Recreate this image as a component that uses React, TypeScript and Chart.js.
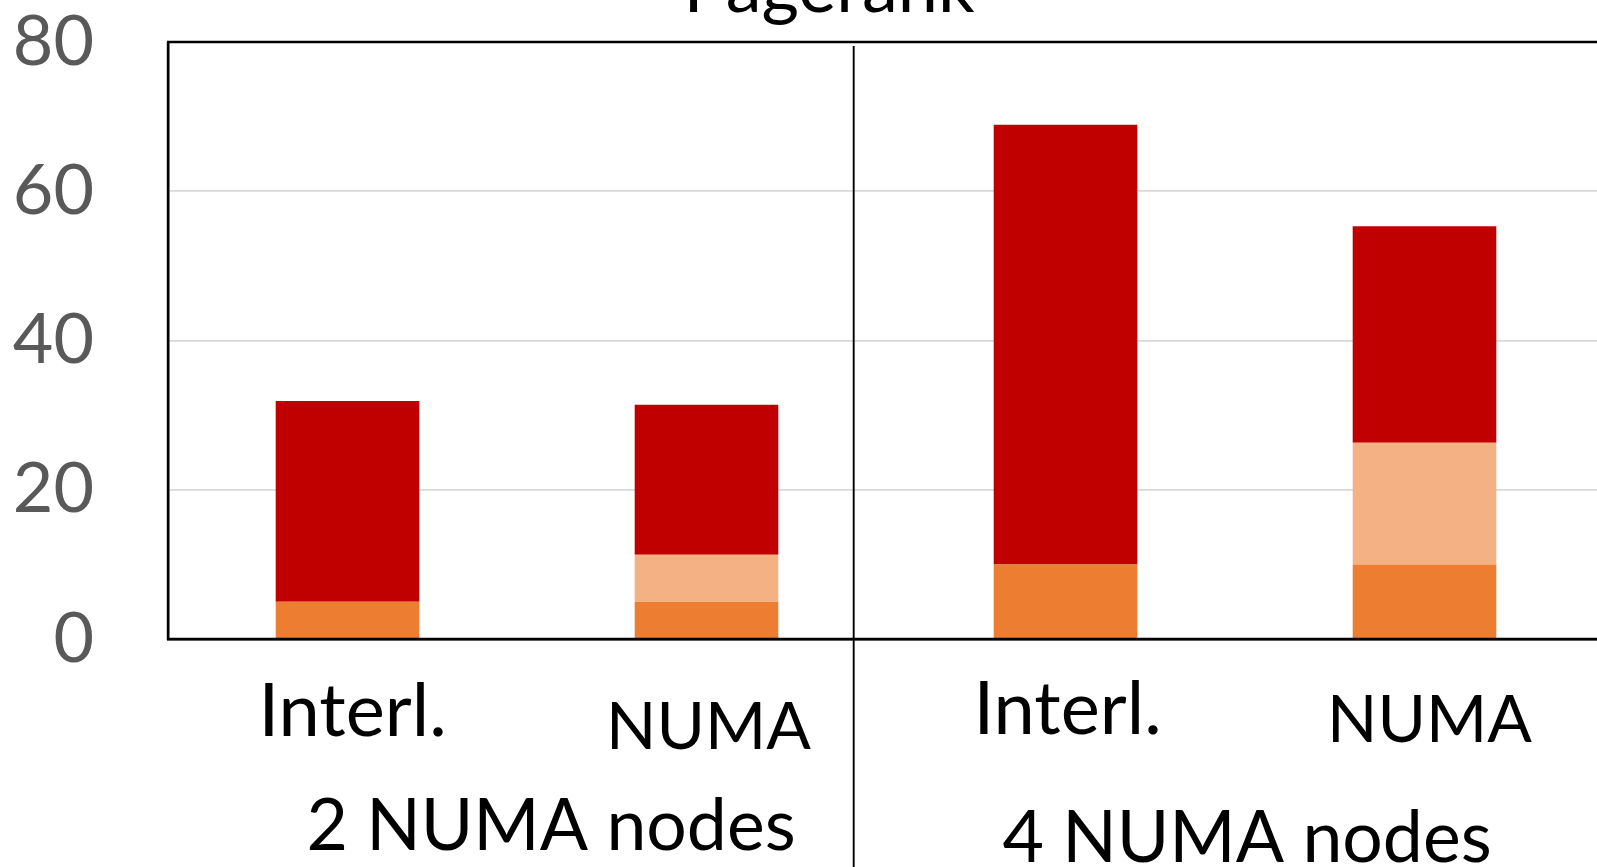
import React, { useEffect, useRef } from "react";
import { Chart, registerables } from "chart.js";

Chart.register(...registerables);

// ---- data ----
const categories = ["Interl.", "NUMA", "Interl.", "NUMA"];
const groupLabels = ["2 NUMA nodes", "4 NUMA nodes"];
const chartTitle = "Pagerank";
const seriesBase = [5, 5, 10, 10];
const seriesMid = [0, 6.3, 0, 16.3];
const seriesTop = [26.9, 20.1, 58.9, 29.0];
const yTickValues = [0, 20, 40, 60, 80];

const FONT = "Lato, 'Open Sans', sans-serif";

const overlayPlugin = {
  id: "overlay",
  afterDraw(chart: any) {
    const { ctx, chartArea } = chart;
    const xs = chart.scales.x;
    ctx.save();
    ctx.strokeStyle = "#000";
    // frame: top, left, bottom
    ctx.lineWidth = 2.4;
    ctx.beginPath();
    ctx.moveTo(chartArea.left - 1, chartArea.top);
    ctx.lineTo(chartArea.right, chartArea.top);
    ctx.stroke();
    ctx.beginPath();
    ctx.moveTo(chartArea.left, chartArea.top);
    ctx.lineTo(chartArea.left, chartArea.bottom + 1);
    ctx.stroke();
    ctx.beginPath();
    ctx.moveTo(chartArea.left - 1, chartArea.bottom);
    ctx.lineTo(chartArea.right, chartArea.bottom);
    ctx.stroke();
    // group divider
    const dx = xs.getPixelForValue(1.41);
    ctx.lineWidth = 1.9;
    ctx.beginPath();
    ctx.moveTo(dx, chartArea.top + 4);
    ctx.lineTo(dx, chart.height);
    ctx.stroke();

    // title (partly cut off at the top)
    ctx.fillStyle = "#000";
    ctx.textAlign = "center";
    ctx.textBaseline = "alphabetic";
    ctx.font = `72px ${FONT}`;
    ctx.fillText(chartTitle, 829, 12);

    // category labels
    const dxs = [5, 2, 2, 5];
    const dys = [97, 109.6, 95.3, 103];
    categories.forEach((c, i) => {
      ctx.font = `${i % 2 === 0 ? 74 : 66}px ${FONT}`;
      ctx.fillText(c, xs.getPixelForValue(i) + dxs[i], chartArea.bottom + dys[i]);
    });
    // group labels
    ctx.font = `71.5px ${FONT}`;
    const gx = [xs.getPixelForValue(0.5) + 24, xs.getPixelForValue(2.5) + 2];
    const gy = [211.3, 223];
    groupLabels.forEach((g, i) => {
      ctx.fillText(g, gx[i], chartArea.bottom + gy[i]);
    });
    ctx.restore();
  },
};

export default function App() {
  const ref = useRef<HTMLCanvasElement | null>(null);
  useEffect(() => {
    if (!ref.current) return;
    const chart = new Chart(ref.current, {
      type: "bar",
      data: {
        labels: categories,
        datasets: [
          { label: "base", data: seriesBase, backgroundColor: "#ED7D31", borderWidth: 0 },
          { label: "mid", data: seriesMid, backgroundColor: "#F4B183", borderWidth: 0 },
          { label: "top", data: seriesTop, backgroundColor: "#C00000", borderWidth: 0 },
        ],
      },
      options: {
        responsive: false,
        animation: false,
        devicePixelRatio: 1,
        layout: { padding: { top: 42, bottom: 228, left: 0, right: 0 } },
        plugins: { legend: { display: false }, tooltip: { enabled: false }, title: { display: false } },
        datasets: { bar: { categoryPercentage: 1, barPercentage: 0.4 } },
        scales: {
          x: {
            stacked: true,
            grid: { display: false, drawTicks: false },
            border: { display: true, color: "#000", width: 2.4 },
            ticks: { display: false },
          },
          y: {
            stacked: true,
            min: 0,
            max: 80,
            afterBuildTicks: (scale: any) => {
              scale.ticks = yTickValues.map((v) => ({ value: v }));
            },
            afterFit: (scale: any) => {
              scale.width = 168;
              scale.paddingTop = 0;
              scale.paddingBottom = 0;
            },
            grid: { color: "#D9D9D9", lineWidth: 1.8, drawTicks: false },
            border: { display: true, color: "#000", width: 2.4 },
            ticks: {
              color: "#595959",
              padding: 74,
              font: { family: FONT, size: 70, lineHeight: 1 },
            },
          },
        },
      },
      plugins: [overlayPlugin],
    });
    return () => chart.destroy();
  }, []);

  return (
    <div style={{ position: "fixed", left: 0, top: 0, width: "1597px", height: "867px", overflow: "hidden", background: "#fff" }}>
      <canvas ref={ref} width={1604} height={867} style={{ width: "1604px", height: "867px", display: "block" }} />
    </div>
  );
}
